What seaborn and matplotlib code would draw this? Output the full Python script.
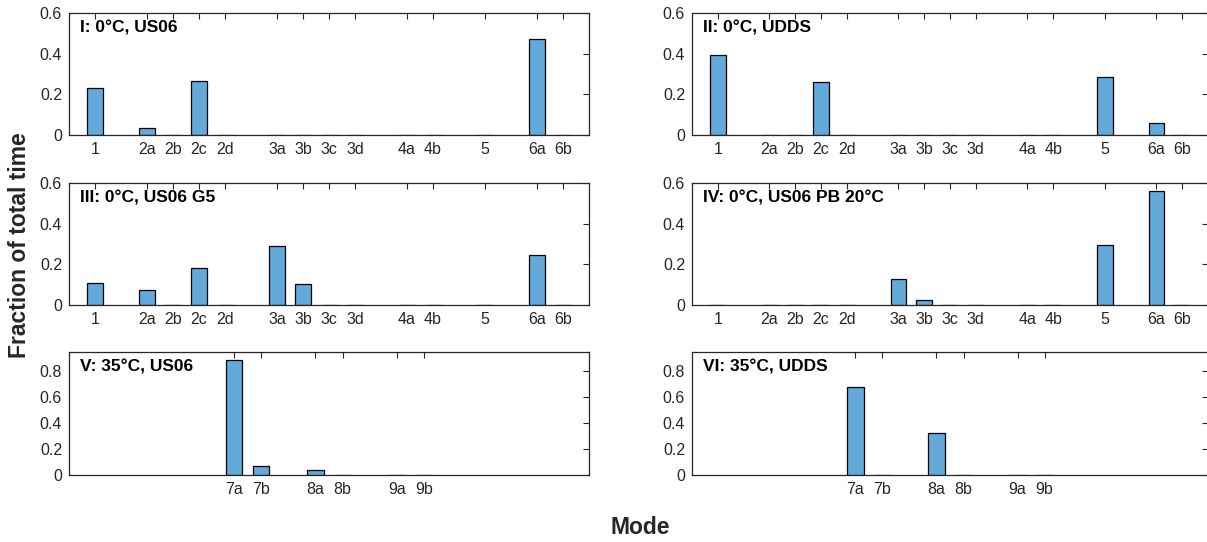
import numpy as np
import pandas as pd
import seaborn as sns
import matplotlib.pyplot as plt

# modes shown in the 0 degC panels (gaps in the axis between mode families)
cold_modes = ['1', '2a', '2b', '2c', '2d', '3a', '3b', '3c', '3d', '4a', '4b', '5', '6a', '6b']
cold_pos = [1, 3, 4, 5, 6, 8, 9, 10, 11, 13, 14, 16, 18, 19]

# modes shown in the 35 degC panels
hot_modes = ['7a', '7b', '8a', '8b', '9a', '9b']
hot_pos = [7, 8, 10, 11, 13, 14]

# fraction of total time per mode
frac_I = [0.233, 0.034, 0, 0.267, 0, 0, 0, 0, 0, 0, 0, 0, 0.470, 0]
frac_II = [0.393, 0, 0, 0.263, 0, 0, 0, 0, 0, 0, 0, 0.287, 0.059, 0]
frac_III = [0.108, 0.073, 0, 0.184, 0, 0.289, 0.106, 0, 0, 0, 0, 0, 0.246, 0]
frac_IV = [0, 0, 0, 0, 0, 0.130, 0.024, 0, 0, 0, 0, 0.293, 0.558, 0]
frac_V = [0.882, 0.074, 0.041, 0, 0, 0]
frac_VI = [0.677, 0, 0.321, 0, 0, 0]

titles = ['I: 0\u00b0C, US06', 'II: 0\u00b0C, UDDS', 'III: 0\u00b0C, US06 G5',
          'IV: 0\u00b0C, US06 PB 20\u00b0C', 'V: 35\u00b0C, US06', 'VI: 35\u00b0C, UDDS']

sns.set_style('white')
plt.rcParams['font.family'] = ['Liberation Sans', 'DejaVu Sans']

bar_colour = '#63a9d9'
text_grey = '#262626'

W, H = 1207, 542
fig = plt.figure(figsize=(W / 100, H / 100), dpi=100)

# axes boxes in pixels: left, top, width, height
col_left = [69, 692]
col_width = [520, 516]
row_top = [12.7, 182.7, 351.7]
row_height = [122.6, 122.6, 123.6]

panels = [
    (frac_I, cold_modes, cold_pos),
    (frac_II, cold_modes, cold_pos),
    (frac_III, cold_modes, cold_pos),
    (frac_IV, cold_modes, cold_pos),
    (frac_V, hot_modes, hot_pos),
    (frac_VI, hot_modes, hot_pos),
]

for i, (vals, labels, pos) in enumerate(panels):
    r, c = divmod(i, 2)
    rect = [col_left[c] / W, 1 - (row_top[r] + row_height[r]) / H,
            col_width[c] / W, row_height[r] / H]
    ax = fig.add_axes(rect)
    df = pd.DataFrame({'pos': pos, 'frac': vals})
    sns.barplot(ax=ax, data=df, x='pos', y='frac', native_scale=True, width=0.6,
                color=bar_colour, saturation=1, edgecolor='black', linewidth=0.9)
    ax.set_xticks(pos)
    ax.set_xticklabels(labels)
    if r < 2:
        ax.set_xlim(0, 20)
        ax.set_ylim(0, 0.6)
        ax.set_yticks([0, 0.2, 0.4, 0.6])
        ax.set_yticklabels(['0', '0.2', '0.4', '0.6'])
    else:
        ax.set_xlim(0.95, 20.05)
        ax.set_ylim(0, 0.945)
        ax.set_yticks([0, 0.2, 0.4, 0.6, 0.8])
        ax.set_yticklabels(['0', '0.2', '0.4', '0.6', '0.8'])
    ax.set_xlabel('')
    ax.set_ylabel('')
    ax.tick_params(direction='in', top=True, right=True, length=4, width=0.8,
                   labelsize=11.5, labelcolor=text_grey, color=text_grey, pad=5)
    for s in ax.spines.values():
        s.set_visible(True)
        s.set_color(text_grey)
        s.set_linewidth(0.9)
    ax.text(11 / col_width[c], 1 - 15 / row_height[r], titles[i], transform=ax.transAxes,
            fontsize=12.5, fontweight='bold', va='center', ha='left', color='black')

fig.text(20 / W, 1 - 245 / H, 'Fraction of total time', rotation=90, ha='center',
         va='center', fontsize=16.5, fontweight='bold', color=text_grey)
fig.text(640 / W, 1 - 527 / H, 'Mode', ha='center', va='center',
         fontsize=16.5, fontweight='bold', color=text_grey)

fig.savefig('out.png', dpi=100)
